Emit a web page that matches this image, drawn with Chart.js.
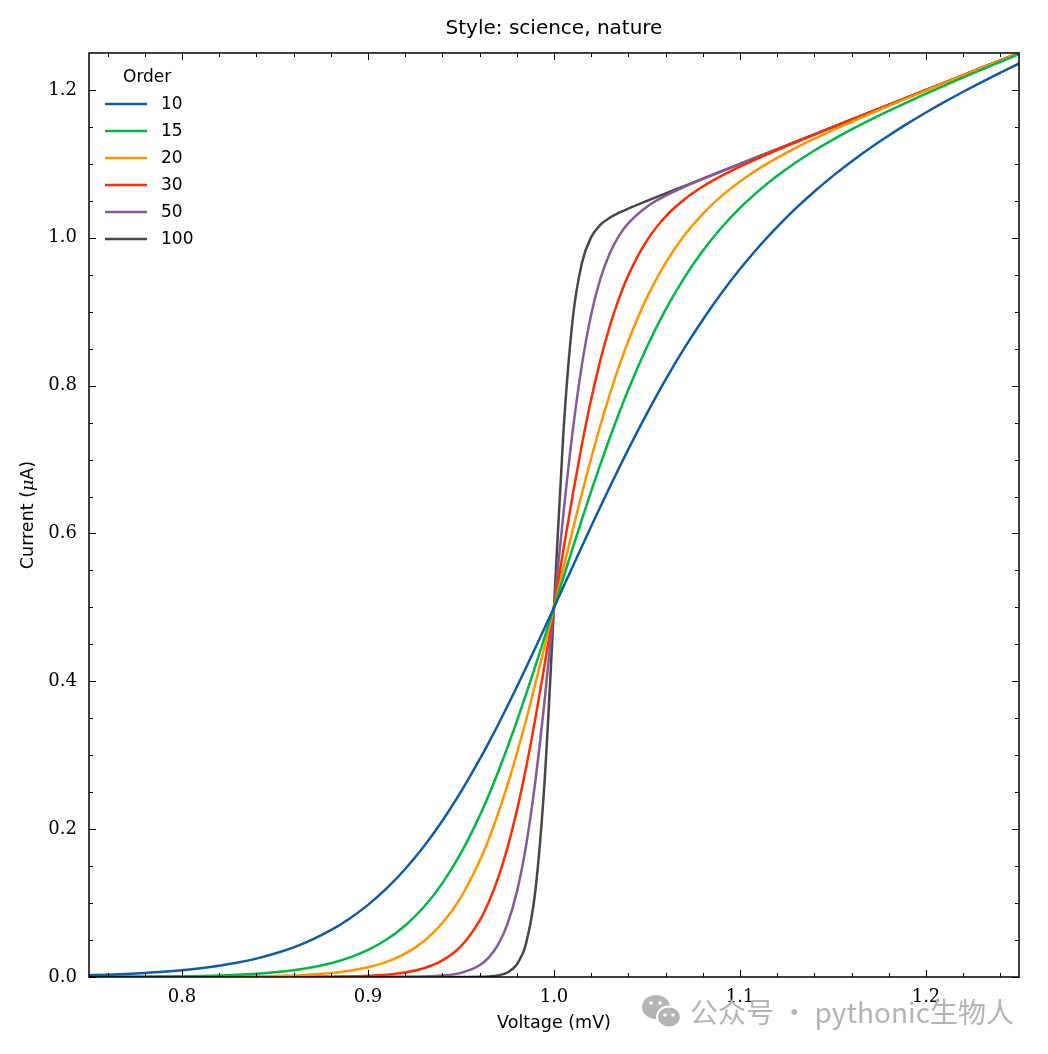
<!DOCTYPE html>
<html lang="en">
<head>
  <meta charset="UTF-8">
  <title>Style: science, nature</title>
  <script src="https://cdn.jsdelivr.net/npm/chart.js"></script>
  <style>
    html, body { margin: 0; padding: 0; background: #fff; }
    canvas { display: block; }
  </style>
</head>
<body>
  <canvas id="chart" width="1048" height="1054"></canvas>

  <script>
    // values
    const voltage = [
      0.75, 0.76, 0.77, 0.78, 0.79, 0.80, 0.81, 0.82, 0.83, 0.84, 0.85, 0.86, 0.87, 0.88, 0.89, 0.90, 0.91, 0.92, 0.93, 0.94, 0.95, 0.96,
      0.965, 0.97, 0.975, 0.98, 0.985, 0.99, 0.995, 1.00, 1.005, 1.01, 1.015, 1.02, 1.025, 1.03, 1.035,
      1.04, 1.05, 1.06, 1.07, 1.08, 1.09, 1.10, 1.11, 1.12, 1.13, 1.14, 1.15, 1.16, 1.17, 1.18, 1.19, 1.20, 1.21, 1.22, 1.23, 1.24, 1.25
    ];
    const order10 = [
      0.0024, 0.0031, 0.0041, 0.0054, 0.0070, 0.0091, 0.0118, 0.0152, 0.0195, 0.0249, 0.0317, 0.0401, 0.0506, 0.0633, 0.0789, 0.0976, 0.1198, 0.1461, 0.1765, 0.2114, 0.2507, 0.2943,
      0.3175, 0.3416, 0.3667, 0.3923, 0.4186, 0.4454, 0.4726, 0.5000, 0.5275, 0.5551, 0.5825, 0.6097, 0.6365, 0.6629, 0.6888,
      0.7141, 0.7625, 0.8081, 0.8503, 0.8892, 0.9250, 0.9577, 0.9875, 1.0148, 1.0398, 1.0627, 1.0838, 1.1033, 1.1215, 1.1384, 1.1544, 1.1695, 1.1838, 1.1976, 1.2107, 1.2234, 1.2358
    ];
    const order15 = [
      0.0001, 0.0002, 0.0003, 0.00045, 0.00067, 0.00099, 0.00145, 0.00212, 0.00309, 0.00447, 0.00644, 0.00922, 0.01314, 0.01861, 0.02619, 0.0366, 0.0507, 0.0697, 0.0947, 0.1270, 0.1679, 0.2180,
      0.2467, 0.2776, 0.3108, 0.3459, 0.3827, 0.4209, 0.4602, 0.5000, 0.5400, 0.5798, 0.6190, 0.6572, 0.6941, 0.7295, 0.7631,
      0.7949, 0.8527, 0.9028, 0.9458, 0.9824, 1.0136, 1.0404, 1.0635, 1.0838, 1.1018, 1.1181, 1.1329, 1.1467, 1.1596, 1.1718, 1.1836, 1.1950, 1.2060, 1.2169, 1.2275, 1.2380, 1.2485
    ];
    const order20 = [
      0.00001, 0.00001, 0.00002, 0.00004, 0.00006, 0.00011, 0.00018, 0.00029, 0.00048, 0.00079, 0.00128, 0.00206, 0.0033, 0.00526, 0.00833, 0.01311, 0.02045, 0.03163, 0.04839, 0.07297, 0.10819, 0.15689,
      0.1871, 0.2214, 0.2598, 0.3022, 0.3480, 0.3968, 0.4478, 0.5000, 0.5525, 0.6042, 0.6543, 0.7021, 0.7469, 0.7883, 0.8263,
      0.8607, 0.9194, 0.9661, 1.0030, 1.0325, 1.0564, 1.0762, 1.0932, 1.1081, 1.1216, 1.1340, 1.1457, 1.1570, 1.1678, 1.1784, 1.1889, 1.1992, 1.2094, 1.2196, 1.2297, 1.2398, 1.2498
    ];
    const order30 = [
      0, 0, 0, 0, 0, 0, 0, 0, 0, 0, 0.00005, 0.0001, 0.0002, 0.00041, 0.00082, 0.00161, 0.00316, 0.00614, 0.0118, 0.0224, 0.0418, 0.0763,
      0.1018, 0.1344, 0.1751, 0.2247, 0.2833, 0.3502, 0.4232, 0.5000, 0.5771, 0.6514, 0.7202, 0.7818, 0.8352, 0.8805, 0.9184,
      0.9497, 0.9966, 1.0288, 1.0518, 1.0694, 1.0838, 1.0964, 1.1079, 1.1188, 1.1293, 1.1396, 1.1497, 1.1598, 1.1699, 1.1799, 1.1900, 1.2000, 1.2100, 1.2200, 1.2300, 1.2400, 1.2500
    ];
    const order50 = [
      0, 0, 0, 0, 0, 0, 0, 0, 0, 0, 0, 0, 0, 0, 0, 0.00002, 0.00007, 0.00022, 0.00066, 0.00193, 0.00559, 0.01593,
      0.0266, 0.0440, 0.0718, 0.1148, 0.1780, 0.2653, 0.3754, 0.5000, 0.6253, 0.7374, 0.8281, 0.8963, 0.9450, 0.9791, 1.0029,
      1.0198, 1.0421, 1.0569, 1.0688, 1.0795, 1.0898, 1.0999, 1.1100, 1.1200, 1.1300, 1.1400, 1.1500, 1.1600, 1.1700, 1.1800, 1.1900, 1.2000, 1.2100, 1.2200, 1.2300, 1.2400, 1.2500
    ];
    const order100 = [
      0, 0, 0, 0, 0, 0, 0, 0, 0, 0, 0, 0, 0, 0, 0, 0, 0, 0, 0, 0, 0.00003, 0.00027,
      0.00078, 0.00219, 0.00613, 0.01694, 0.04572, 0.1170, 0.2671, 0.5000, 0.7343, 0.8886, 0.9658, 1.0009, 1.0177, 1.0272, 1.0339,
      1.0396, 1.0499, 1.0600, 1.0700, 1.0800, 1.0900, 1.1000, 1.1100, 1.1200, 1.1300, 1.1400, 1.1500, 1.1600, 1.1700, 1.1800, 1.1900, 1.2000, 1.2100, 1.2200, 1.2300, 1.2400, 1.2500
    ];
    const orderLabels = ['10', '15', '20', '30', '50', '100'];
    const xTicks = [0.8, 0.9, 1.0, 1.1, 1.2];
    const xMinorTicks = [0.76, 0.78, 0.82, 0.84, 0.86, 0.88, 0.92, 0.94, 0.96, 0.98, 1.02, 1.04, 1.06, 1.08, 1.12, 1.14, 1.16, 1.18, 1.22, 1.24];
    const yTicks = [0, 0.2, 0.4, 0.6, 0.8, 1.0, 1.2];
    const yMinorTicks = [0.05, 0.1, 0.15, 0.25, 0.3, 0.35, 0.45, 0.5, 0.55, 0.65, 0.7, 0.75, 0.85, 0.9, 0.95, 1.05, 1.1, 1.15];

    const series = [order10, order15, order20, order30, order50, order100];
    const colors = ['#0C5DA5', '#00B945', '#FF9500', '#FF2C00', '#845B97', '#474747'];

    const SANS = '"DejaVu Sans", sans-serif';
    const SERIF = '"DejaVu Serif", serif';

    // inward ticks on all four sides, box, texts and legend
    const decorations = {
      id: 'decorations',
      afterDatasetsDraw(chart) {
        const { ctx, chartArea: a, scales: { x, y } } = chart;
        ctx.save();
        ctx.strokeStyle = '#000';
        ctx.lineWidth = 1;
        const xMarks = (vals, len) => vals.forEach(v => {
          const px = Math.round(x.getPixelForValue(v)) + 0.5;
          ctx.beginPath();
          ctx.moveTo(px, a.bottom); ctx.lineTo(px, a.bottom - len);
          ctx.moveTo(px, a.top); ctx.lineTo(px, a.top + len);
          ctx.stroke();
        });
        const yMarks = (vals, len) => vals.forEach(v => {
          const py = Math.round(y.getPixelForValue(v)) + 0.5;
          ctx.beginPath();
          ctx.moveTo(a.left, py); ctx.lineTo(a.left + len, py);
          ctx.moveTo(a.right, py); ctx.lineTo(a.right - len, py);
          ctx.stroke();
        });
        xMarks(xTicks, 7);
        xMarks(xMinorTicks, 4);
        yMarks(yTicks, 7);
        yMarks(yMinorTicks, 4);
        ctx.lineWidth = 1.5;
        ctx.strokeRect(a.left, a.top, a.right - a.left, a.bottom - a.top);

        // legend
        ctx.fillStyle = '#000';
        ctx.font = '17px ' + SANS;
        ctx.textBaseline = 'middle';
        ctx.textAlign = 'left';
        ctx.fillText('Order', a.left + 34, 78);
        chart.data.datasets.forEach((ds, i) => {
          const ly = 104 + i * 27;
          ctx.strokeStyle = ds.borderColor;
          ctx.lineWidth = 2.5;
          ctx.beginPath();
          ctx.moveTo(a.left + 16, ly); ctx.lineTo(a.left + 58, ly);
          ctx.stroke();
          ctx.fillText(ds.label, a.left + 72, ly + 1);
        });

        // title
        ctx.textAlign = 'center';
        ctx.font = '20px ' + SANS;
        ctx.fillText('Style: science, nature', (a.left + a.right) / 2, 29);

        // axis titles
        ctx.font = '17.5px ' + SANS;
        ctx.fillText('Voltage (mV)', (a.left + a.right) / 2, 1023);

        ctx.save();
        ctx.translate(28, (a.top + a.bottom) / 2);
        ctx.rotate(-Math.PI / 2);
        const parts = [['Current (', '17.5px ' + SANS], ['\u03bc', 'italic 17.5px ' + SERIF], ['A)', '17.5px ' + SANS]];
        let total = 0;
        parts.forEach(([t, f]) => { ctx.font = f; total += ctx.measureText(t).width; });
        let cx = -total / 2;
        ctx.textAlign = 'left';
        parts.forEach(([t, f]) => { ctx.font = f; ctx.fillText(t, cx, 0); cx += ctx.measureText(t).width; });
        ctx.restore();

        // watermark
        ctx.fillStyle = '#b4b4b4';
        ctx.beginPath(); ctx.ellipse(656, 1007, 14, 12, 0, 0, Math.PI * 2); ctx.fill();
        ctx.strokeStyle = '#fff'; ctx.lineWidth = 2;
        ctx.beginPath(); ctx.ellipse(669, 1017, 12, 10.5, 0, 0, Math.PI * 2); ctx.fill(); ctx.stroke();
        ctx.fillStyle = '#fff';
        [[651, 1003], [660, 1003], [665, 1015], [673, 1015]].forEach(([ex, ey]) => {
          ctx.beginPath(); ctx.arc(ex, ey, 1.8, 0, Math.PI * 2); ctx.fill();
        });
        ctx.fillStyle = '#b4b4b4';
        ctx.textAlign = 'left';
        ctx.font = '28px "Noto Sans CJK SC", "Noto Sans", sans-serif';
        ctx.fillText('公众号 · pythonic生物人', 690, 1012);
        ctx.restore();
      }
    };

    new Chart(document.getElementById('chart').getContext('2d'), {
      type: 'line',
      data: {
        datasets: series.map((vals, i) => ({
          label: orderLabels[i],
          data: voltage.map((v, j) => ({ x: v, y: vals[j] })),
          borderColor: colors[i],
          backgroundColor: colors[i],
          borderWidth: 2.5,
          pointRadius: 0,
          fill: false,
          cubicInterpolationMode: 'monotone'
        }))
      },
      options: {
        responsive: false,
        animation: false,
        layout: { padding: { top: 53, right: 29, left: 0, bottom: 0 } },
        scales: {
          x: {
            type: 'linear',
            min: 0.75,
            max: 1.25,
            afterBuildTicks: s => { s.ticks = xTicks.map(v => ({ value: v })); },
            afterFit: s => { s.height = 77; },
            grid: { display: false, drawTicks: false },
            border: { display: false },
            ticks: {
              autoSkip: false,
              maxRotation: 0,
              padding: 10,
              color: '#000',
              font: { family: SERIF, size: 18 },
              callback: v => v.toFixed(1)
            }
          },
          y: {
            min: 0,
            max: 1.25,
            afterBuildTicks: s => { s.ticks = yTicks.map(v => ({ value: v })); },
            afterFit: s => { s.width = 89; },
            grid: { display: false, drawTicks: false },
            border: { display: false },
            ticks: {
              autoSkip: false,
              padding: 12,
              color: '#000',
              font: { family: SERIF, size: 18 },
              callback: v => v.toFixed(1)
            }
          }
        },
        plugins: {
          legend: { display: false },
          tooltip: { enabled: false }
        }
      },
      plugins: [decorations]
    });
  </script>
</body>
</html>
